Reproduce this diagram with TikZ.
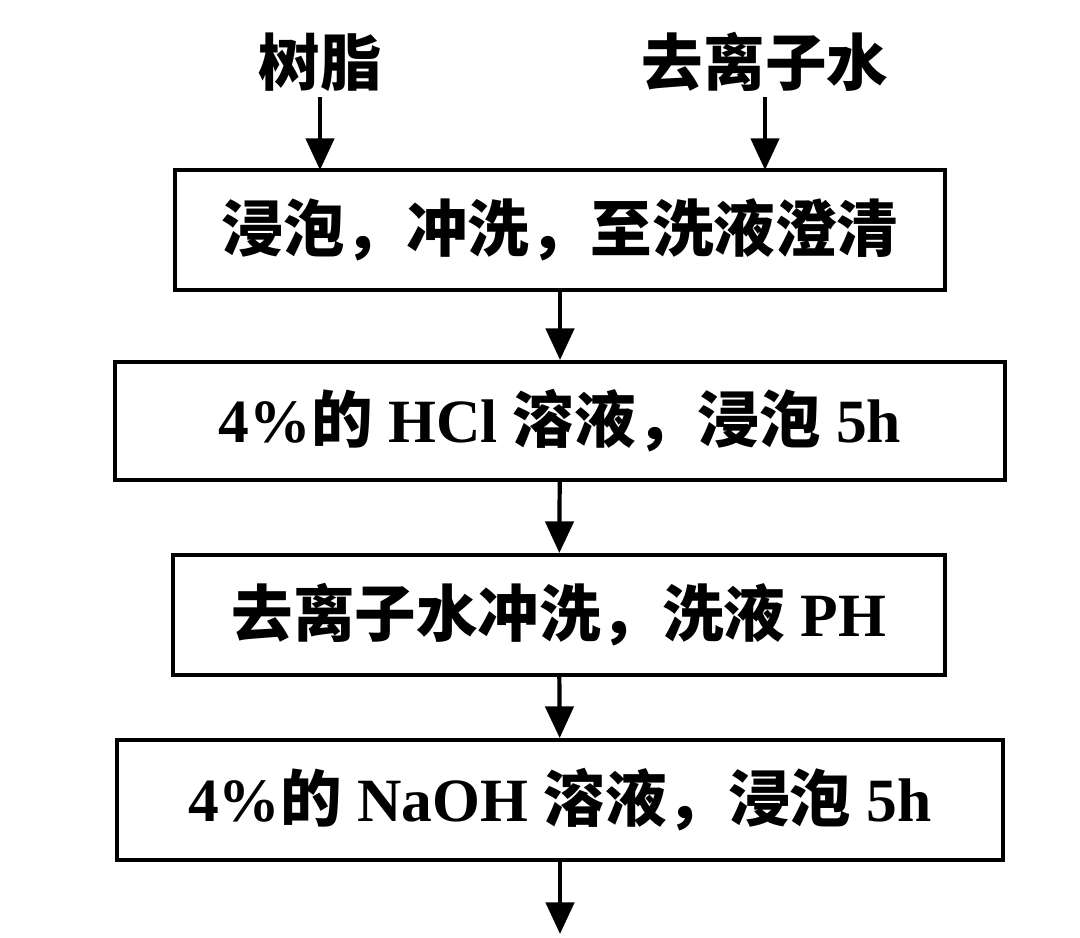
\documentclass[tikz,border=0pt]{standalone}
\usepackage{fontspec}
\setmainfont{Liberation Serif}
\newfontfamily\cjk{Noto Sans CJK SC}
\usetikzlibrary{arrows.meta}
\begin{document}
\begin{tikzpicture}[x=0.01cm,y=-0.01cm,
    stepbox/.style={draw, line width=1.1pt, inner sep=0pt},
    lbl/.style={font=\fontsize{17.5}{20}\selectfont\bfseries},
    flow/.style={-{Triangle[length=9pt,width=8pt]}, line width=1.2pt}
]
\useasboundingbox (0,0) rectangle (1080,937);

\node[lbl] (resin) at (320,62) {\cjk 树脂};
\node[lbl] (water) at (765,62) {\cjk 去离子水};

\node[stepbox, minimum width=7.7cm, minimum height=1.2cm] (b1) at (560,230) {};
\node[lbl] at (b1) {\cjk 浸泡，冲洗，至洗液澄清};
\node[stepbox, minimum width=8.9cm, minimum height=1.18cm] (b2) at (560,421) {};
\node[lbl] at (b2) {4\%{\cjk 的} HCl {\cjk 溶液，浸泡} 5h};
\node[stepbox, minimum width=7.72cm, minimum height=1.2cm] (b3) at (559,615) {};
\node[lbl] at (b3) {{\cjk 去离子水冲洗，洗液} PH};
\node[stepbox, minimum width=8.85cm, minimum height=1.2cm] (b4) at (560,800) {};
\node[lbl] at (b4) {4\%{\cjk 的} NaOH {\cjk 溶液，浸泡} 5h};

\coordinate (r1) at (320,97);
\coordinate (w1) at (765,97);
\coordinate (r2) at (320,170);
\coordinate (w2) at (765,170);
\coordinate (endpt) at (560,934);

\draw[flow] (r1) -- (r2);
\draw[flow] (w1) -- (w2);
\draw[flow] (b1) -- (b2);
\draw[flow] (b2) -- (b3);
\draw[flow] (b3) -- (b4);
\draw[flow] (b4.south) -- (endpt);
\end{tikzpicture}
\end{document}
